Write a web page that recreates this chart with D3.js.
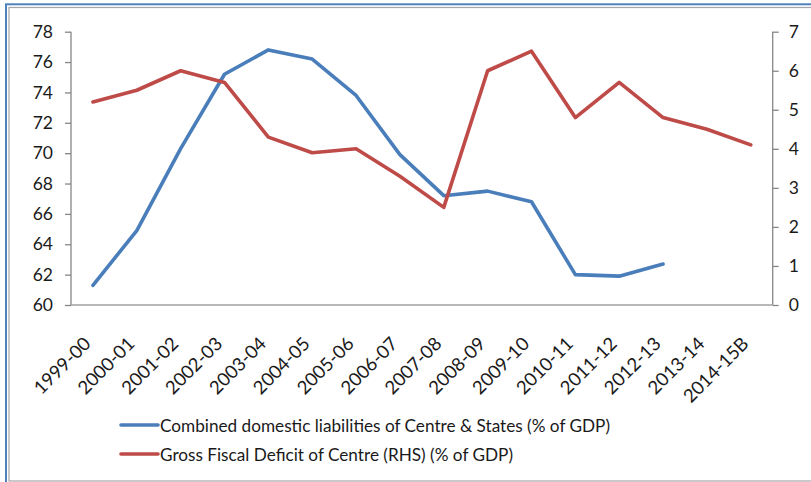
<!DOCTYPE html>
<html>
<head>
<meta charset="utf-8">
<script src="https://cdn.jsdelivr.net/npm/d3@7"></script>
<style>
  html, body { margin: 0; padding: 0; background: #fff; }
  svg { display: block; }
  text { font-family: Lato, "Open Sans", sans-serif; fill: #1a1a1a; }
</style>
</head>
<body>
<svg id="chart" width="811" height="482"></svg>
<script>
// Fiscal years on the category axis
const years = ["1999-00","2000-01","2001-02","2002-03","2003-04","2004-05","2005-06",
  "2006-07","2007-08","2008-09","2009-10","2010-11","2011-12","2012-13","2013-14","2014-15B"];

// Combined domestic liabilities of Centre & States, % of GDP (left axis)
const liabilities = [61.3, 64.9, 70.3, 75.2, 76.8, 76.2, 73.8, 69.9, 67.2, 67.5, 66.8, 62.0, 61.9, 62.7];

// Gross fiscal deficit of Centre, % of GDP (right axis)
const deficit = [5.2, 5.5, 6.0, 5.7, 4.3, 3.9, 4.0, 3.3, 2.5, 6.0, 6.5, 4.8, 5.7, 4.8, 4.5, 4.1];

const leftTicks = [60, 62, 64, 66, 68, 70, 72, 74, 76, 78];
const rightTicks = [0, 1, 2, 3, 4, 5, 6, 7];

const seriesNames = [
  "Combined domestic liabilities of Centre & States (% of GDP)",
  "Gross Fiscal Deficit of Centre (RHS) (% of GDP)"
];
const colors = ["#4a7ebb", "#be4b48"];

const svg = d3.select("#chart");

// Frame: outer blue border and inner grey chart-area border
svg.append("rect").attr("x", 6).attr("y", 4.3).attr("width", 830).attr("height", 520)
  .attr("fill", "none").attr("stroke", "#4f81bd").attr("stroke-width", 2);
svg.append("rect").attr("x", 9).attr("y", 7.5).attr("width", 830).attr("height", 473.5)
  .attr("fill", "#fff").attr("stroke", "#a6a6a6").attr("stroke-width", 1.2);

const plot = { left: 71, right: 772.7, top: 31.7, bottom: 305 };

const x = d3.scaleBand().domain(years).range([plot.left, plot.right]);
const yL = d3.scaleLinear().domain([60, 78]).range([plot.bottom, plot.top]);
const yR = d3.scaleLinear().domain([0, 7]).range([plot.bottom, plot.top]);

const axisColor = "#868686";

// Left axis
const gL = svg.append("g").attr("transform", `translate(${plot.left},0)`)
  .call(d3.axisLeft(yL).tickValues(leftTicks).tickSize(6).tickPadding(12).tickFormat(d3.format("d")));
// Right axis
const gR = svg.append("g").attr("transform", `translate(${plot.right},0)`)
  .call(d3.axisRight(yR).tickValues(rightTicks).tickSize(6).tickPadding(10).tickFormat(d3.format("d")));
[gL, gR].forEach(g => {
  g.select(".domain").attr("stroke", axisColor).attr("stroke-width", 1.3)
    .attr("d", `M0,${plot.top}V${plot.bottom}`);
  g.selectAll(".tick line").attr("stroke", axisColor).attr("stroke-width", 1.3);
  g.selectAll(".tick text").attr("font-size", 17.5).attr("fill", "#1a1a1a")
    .attr("font-family", "Lato, 'Open Sans', sans-serif");
});

// Category axis
const gX = svg.append("g").attr("transform", `translate(0,${plot.bottom})`)
  .call(d3.axisBottom(x).tickSize(0).tickPadding(0));
gX.select(".domain").attr("stroke", "#a0a0a0").attr("stroke-width", 1.3)
  .attr("d", `M${plot.left},0H${plot.right}`);
gX.selectAll(".tick text")
  .attr("font-size", 18.5).attr("fill", "#1a1a1a")
  .attr("font-family", "Lato, 'Open Sans', sans-serif")
  .attr("text-anchor", "end").attr("dy", null).attr("y", 0)
  .attr("transform", "translate(-1,40) rotate(-45)");

// Lines
const lineL = d3.line().x((d, i) => x(years[i]) + x.bandwidth() / 2).y(d => yL(d));
const lineR = d3.line().x((d, i) => x(years[i]) + x.bandwidth() / 2).y(d => yR(d));

svg.append("path").datum(liabilities).attr("d", lineL)
  .attr("fill", "none").attr("stroke", colors[0]).attr("stroke-width", 3.6)
  .attr("stroke-linejoin", "round").attr("stroke-linecap", "round");
svg.append("path").datum(deficit).attr("d", lineR)
  .attr("fill", "none").attr("stroke", colors[1]).attr("stroke-width", 3.6)
  .attr("stroke-linejoin", "round").attr("stroke-linecap", "round");

// Legend
const legend = svg.append("g");
const legendY = [425, 454];
const legendWidths = [450, 353];
seriesNames.forEach((name, i) => {
  legend.append("line").attr("x1", 121).attr("x2", 158)
    .attr("y1", legendY[i]).attr("y2", legendY[i])
    .attr("stroke", colors[i]).attr("stroke-width", 3.6).attr("stroke-linecap", "round");
  legend.append("text").attr("x", 160).attr("y", legendY[i] + 6.5)
    .attr("font-size", 18).attr("textLength", legendWidths[i]).attr("lengthAdjust", "spacingAndGlyphs")
    .text(name);
});
</script>
</body>
</html>
